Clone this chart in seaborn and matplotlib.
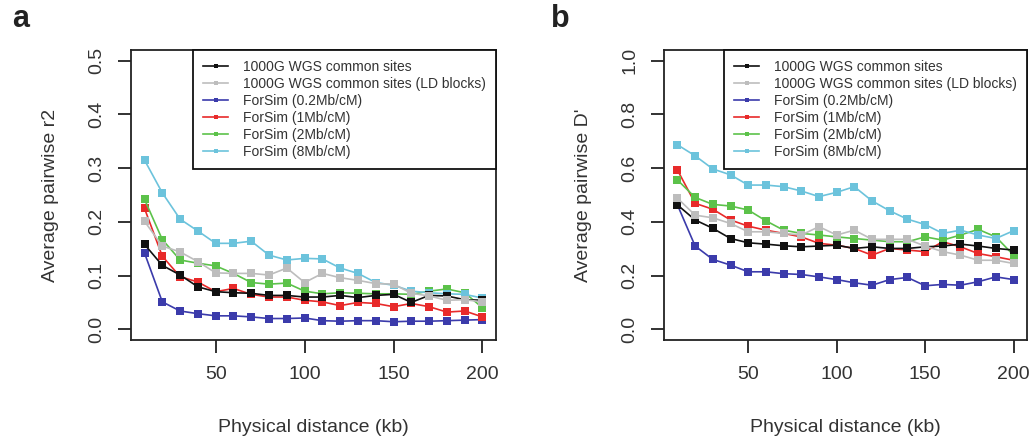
import numpy as np
import pandas as pd
import matplotlib
matplotlib.use("Agg")
import matplotlib.pyplot as plt
from matplotlib.lines import Line2D
import seaborn as sns

# ---------------- data ----------------
distance_kb = [10, 20, 30, 40, 50, 60, 70, 80, 90, 100,
               110, 120, 130, 140, 150, 160, 170, 180, 190, 200]

series_names = ["1000G WGS common sites",
                "1000G WGS common sites (LD blocks)",
                "ForSim (0.2Mb/cM)",
                "ForSim (1Mb/cM)",
                "ForSim (2Mb/cM)",
                "ForSim (8Mb/cM)"]

series_colors = ["#111111", "#bdbdbd", "#3b3bab", "#e82a2a", "#5cc24a", "#6cc3dc"]

# Panel a: average pairwise r2
r2_wgs      = [0.158, 0.119, 0.101, 0.079, 0.070, 0.068, 0.067, 0.063, 0.063, 0.060,
               0.060, 0.063, 0.059, 0.063, 0.065, 0.050, 0.063, 0.062, 0.055, 0.054]
r2_wgs_ld   = [0.201, 0.155, 0.144, 0.126, 0.105, 0.104, 0.104, 0.101, 0.114, 0.087,
               0.104, 0.096, 0.091, 0.085, 0.084, 0.067, 0.062, 0.054, 0.055, 0.051]
r2_sim_02   = [0.142, 0.051, 0.034, 0.029, 0.025, 0.025, 0.023, 0.020, 0.020, 0.021,
               0.016, 0.015, 0.016, 0.016, 0.014, 0.015, 0.015, 0.016, 0.017, 0.018]
r2_sim_1    = [0.225, 0.136, 0.098, 0.088, 0.070, 0.076, 0.065, 0.060, 0.060, 0.054,
               0.051, 0.044, 0.050, 0.048, 0.042, 0.048, 0.042, 0.032, 0.034, 0.023]
r2_sim_2    = [0.242, 0.167, 0.129, 0.123, 0.118, 0.104, 0.087, 0.084, 0.086, 0.071,
               0.066, 0.068, 0.067, 0.066, 0.066, 0.065, 0.071, 0.075, 0.068, 0.040]
r2_sim_8    = [0.315, 0.254, 0.205, 0.183, 0.160, 0.160, 0.164, 0.138, 0.129, 0.132,
               0.131, 0.114, 0.104, 0.087, 0.082, 0.071, 0.068, 0.066, 0.065, 0.058]

# Panel b: average pairwise D'
d_wgs       = [0.463, 0.407, 0.376, 0.338, 0.322, 0.317, 0.311, 0.307, 0.310, 0.313,
               0.301, 0.307, 0.301, 0.301, 0.307, 0.310, 0.317, 0.310, 0.301, 0.295]
d_wgs_ld    = [0.488, 0.425, 0.415, 0.394, 0.363, 0.363, 0.357, 0.351, 0.382, 0.351,
               0.369, 0.335, 0.335, 0.335, 0.310, 0.289, 0.276, 0.257, 0.257, 0.245]
d_sim_02    = [0.463, 0.310, 0.260, 0.239, 0.214, 0.214, 0.207, 0.204, 0.195, 0.185,
               0.173, 0.164, 0.185, 0.193, 0.162, 0.167, 0.164, 0.177, 0.195, 0.185]
d_sim_1     = [0.593, 0.469, 0.447, 0.407, 0.384, 0.369, 0.357, 0.344, 0.320, 0.313,
               0.301, 0.276, 0.301, 0.295, 0.289, 0.326, 0.307, 0.282, 0.270, 0.257]
d_sim_2     = [0.556, 0.491, 0.465, 0.459, 0.444, 0.404, 0.369, 0.357, 0.351, 0.344,
               0.338, 0.332, 0.326, 0.326, 0.344, 0.332, 0.351, 0.372, 0.344, 0.276]
d_sim_8     = [0.687, 0.646, 0.597, 0.575, 0.537, 0.537, 0.531, 0.515, 0.494, 0.510,
               0.531, 0.478, 0.441, 0.410, 0.390, 0.357, 0.369, 0.351, 0.338, 0.367]

panel_letters = ["a", "b"]
y_labels = ["Average pairwise r2", "Average pairwise D'"]
x_label = "Physical distance (kb)"
x_ticks = [50, 100, 150, 200]
y_ticks_a = [0.0, 0.1, 0.2, 0.3, 0.4, 0.5]
y_ticks_b = [0.0, 0.2, 0.4, 0.6, 0.8, 1.0]

# ---------------- build tables ----------------
def long_table(values_list):
    rows = []
    for name, vals in zip(series_names, values_list):
        for x, v in zip(distance_kb, vals):
            rows.append((name, x, v))
    return pd.DataFrame(rows, columns=["series", "distance", "value"])

df_a = long_table([r2_wgs, r2_wgs_ld, r2_sim_02, r2_sim_1, r2_sim_2, r2_sim_8])
df_b = long_table([d_wgs, d_wgs_ld, d_sim_02, d_sim_1, d_sim_2, d_sim_8])

palette = dict(zip(series_names, series_colors))
draw_order = [series_names[i] for i in (2, 3, 4, 5, 0, 1)]

plt.rcParams["font.family"] = ["Liberation Sans", "DejaVu Sans"]

fig = plt.figure(figsize=(10.33, 4.38), dpi=100)
W, H = 1033, 438
ax_a = fig.add_axes([131 / W, 1 - 340 / H, (496 - 131) / W, (340 - 50) / H])
ax_b = fig.add_axes([664 / W, 1 - 340 / H, (1027 - 664) / W, (340 - 50) / H])

panels = [(ax_a, df_a, y_ticks_a, (-0.02, 0.52)),
          (ax_b, df_b, y_ticks_b, (-0.04, 1.04))]

for i, (ax, df, yt, ylim) in enumerate(panels):
    for name in draw_order:
        sub = df[df["series"] == name]
        sns.lineplot(data=sub, x="distance", y="value", color=palette[name],
                     marker="s", markersize=6.4, markeredgewidth=0,
                     linewidth=1.2, ax=ax, legend=False)
    ax.set_xlim(2.4, 207.6)
    ax.set_ylim(*ylim)
    ax.set_xticks(x_ticks)
    ax.set_xticklabels([str(t) for t in x_ticks])
    ax.set_yticks(yt)
    ax.set_yticklabels([f"{t:.1f}" for t in yt], rotation=90, va="center")
    ax.tick_params(axis="both", direction="out", length=9.5, width=1.3,
                   color="#222222", labelsize=14, pad=9, labelcolor="#333333")
    for sp in ax.spines.values():
        sp.set_linewidth(1.3)
        sp.set_color("#222222")
    ax.set_xlabel(x_label, fontsize=14, color="#333333", labelpad=26)
    ax.set_ylabel(y_labels[i], fontsize=14, color="#333333", labelpad=21)

    handles = [Line2D([0], [0], color=palette[n], marker="s", markersize=3.5,
                      markeredgewidth=0, linewidth=1.2) for n in series_names]
    leg = ax.legend(handles, series_names, loc="upper right",
                    bbox_to_anchor=(1.0, 1.0), borderaxespad=0.0,
                    fontsize=10, frameon=True, fancybox=False,
                    edgecolor="#111111", framealpha=1.0, borderpad=0.7,
                    handlelength=1.8, handletextpad=1.1, labelspacing=0.22)
    leg.get_frame().set_linewidth(1.3)
    for t in leg.get_texts():
        t.set_color("#333333")

fig.text(12 / W, 1 - 19 / H, panel_letters[0], fontsize=22, fontweight="bold",
         ha="left", va="center", color="#222222")
fig.text(551 / W, 1 - 19 / H, panel_letters[1], fontsize=22, fontweight="bold",
         ha="left", va="center", color="#222222")

fig.savefig("out.png", dpi=100)
